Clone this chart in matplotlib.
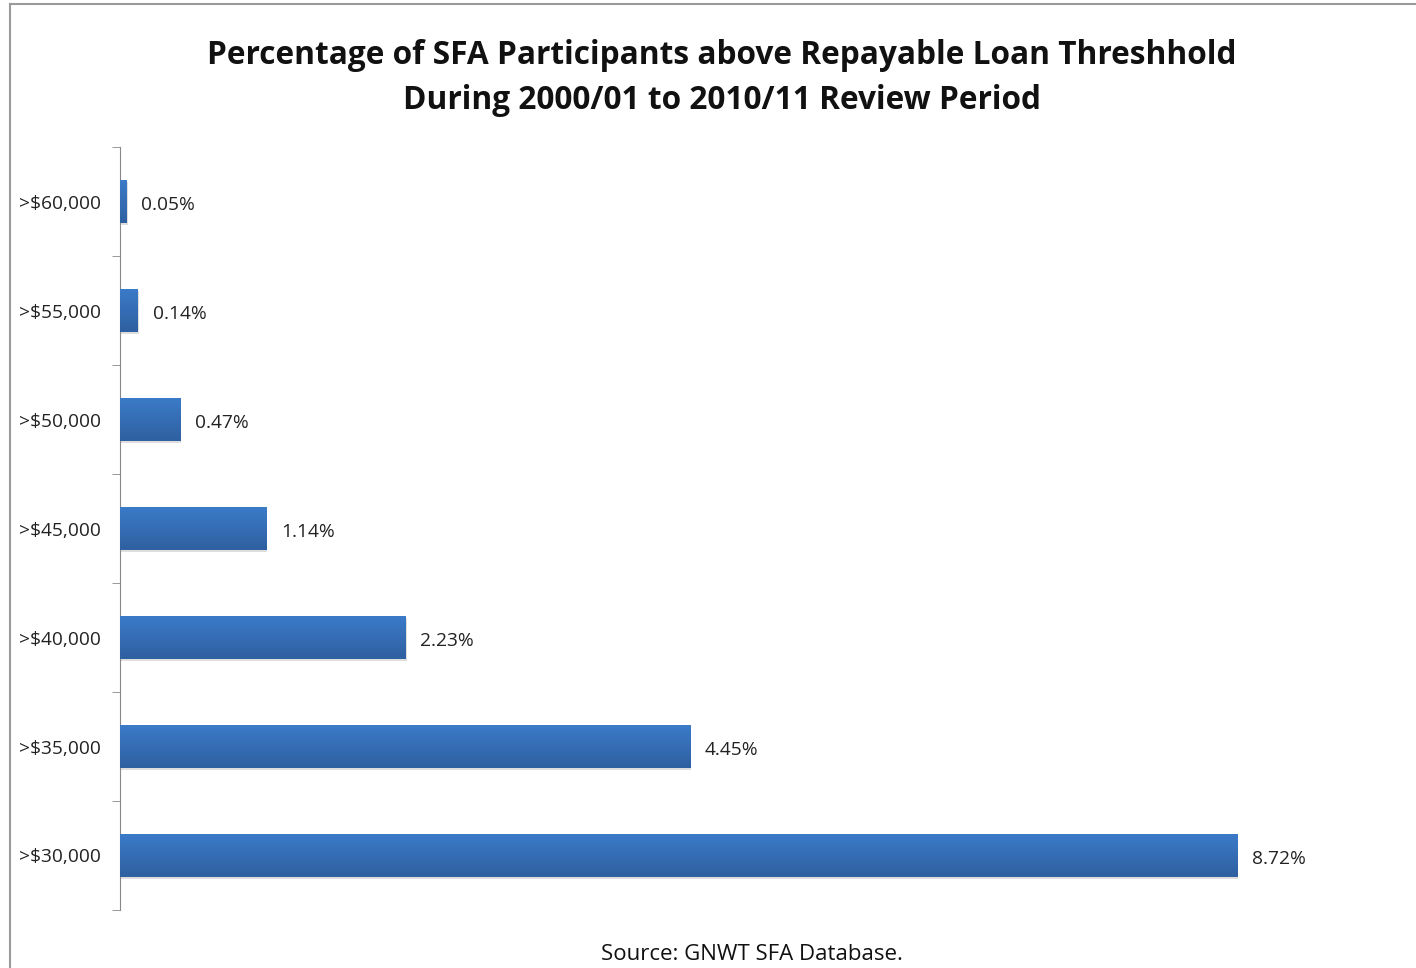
import matplotlib.pyplot as plt
import numpy as np
from matplotlib.lines import Line2D
from matplotlib.colors import LinearSegmentedColormap

plt.rcParams['font.family'] = ['Open Sans', 'DejaVu Sans']

# data
categories = ['>$60,000', '>$55,000', '>$50,000', '>$45,000', '>$40,000', '>$35,000', '>$30,000']
values = [0.05, 0.14, 0.47, 1.14, 2.23, 4.45, 8.72]
labels = ['0.05%', '0.14%', '0.47%', '1.14%', '2.23%', '4.45%', '8.72%']

fig = plt.figure(figsize=(14.16, 9.68), dpi=100)
W, H = 1416, 968

# frame lines (left + top) around the chart area
fig.add_artist(Line2D([10 / W, 10 / W], [0, 1 - 4 / H], color='#9a9a9a', lw=1.5))
fig.add_artist(Line2D([10 / W, 1], [1 - 4 / H, 1 - 4 / H], color='#9a9a9a', lw=1.5))

ax = fig.add_axes([120 / W, 1 - 910 / H, 1281 / W, 763 / H])

pos = np.arange(len(categories))[::-1]  # first category at top
bh = 0.4

# gradient bars
grad = np.linspace(0, 1, 64).reshape(-1, 1)
cmap = LinearSegmentedColormap.from_list('b', ['#2f60a0', '#3b7bc9'])
for y, v in zip(pos, values):
    # shadow
    ax.barh(y - 0.02, v + 0.01, height=bh, color='#c8c8c8', alpha=0.6, zorder=1)
    bar = ax.barh(y, v, height=bh, color='#3670b8', zorder=2)[0]
    im = ax.imshow(grad, extent=[0, v, y - bh / 2, y + bh / 2], aspect='auto',
                   cmap=cmap, origin='lower', zorder=3)
    im.set_clip_path(bar)

for y, v, t in zip(pos, values, labels):
    ax.text(v + 0.115, y - 0.01, t, va='center_baseline', ha='left', fontsize=13.8, color='#222222')

ax.set_xlim(0, 10)
ax.set_ylim(-0.5, len(categories) - 0.5)
ax.set_yticks(pos)
ax.set_yticklabels(categories, fontsize=13.8, color='#222222', va='center_baseline')
ax.set_yticks(np.arange(-0.5, len(categories), 1), minor=True)
ax.tick_params(axis='y', which='major', length=0, pad=14)
ax.tick_params(axis='y', which='minor', length=6, color='#888888', direction='out')
ax.set_xticks([])
for s in ['top', 'right', 'bottom']:
    ax.spines[s].set_visible(False)
ax.spines['left'].set_color('#888888')

fig.text(722 / W, 1 - 78 / H,
         'Percentage of SFA Participants above Repayable Loan Threshhold\nDuring 2000/01 to 2010/11 Review Period',
         ha='center', va='center', fontsize=22.8, fontweight='bold', linespacing=1.45, color='#111111')
fig.text(752 / W, 1 - 954 / H, 'Source: GNWT SFA Database.', ha='center', va='center',
         fontsize=16, color='#111111')

fig.savefig('out.png', dpi=100)
